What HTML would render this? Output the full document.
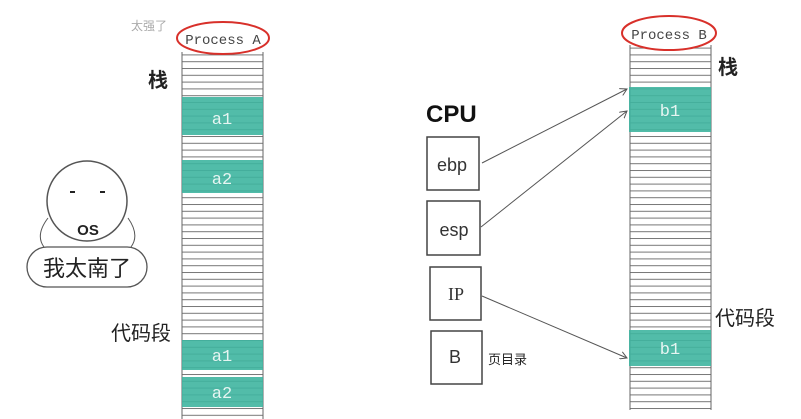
<!DOCTYPE html>
<html><head><meta charset="utf-8"><style>body{margin:0;background:#fff}svg{display:block}</style></head><body>
<svg width="801" height="419" xmlns="http://www.w3.org/2000/svg" font-family="Liberation Sans, Noto Sans CJK SC, sans-serif">
<defs>
<pattern id="ln" x="0" y="0" width="10" height="6.8" patternUnits="userSpaceOnUse"><line x1="0" y1="0.5" x2="10" y2="0.5" stroke="#777" stroke-width="1"/></pattern>
<marker id="ar" markerWidth="8" markerHeight="8" refX="7" refY="4" orient="auto"><path d="M0,0 L7,4 L0,8" fill="none" stroke="#555" stroke-width="1"/></marker>
</defs>
<rect x="182" y="52" width="81" height="365" fill="url(#ln)"/>
<line x1="182" y1="52" x2="182" y2="419" stroke="#666"/><line x1="263" y1="52" x2="263" y2="419" stroke="#666"/>
<g fill="#3fb5a0" opacity="0.9">
<rect x="182" y="97" width="81" height="38"/><rect x="182" y="160" width="81" height="33"/>
<rect x="182" y="340" width="81" height="30"/><rect x="182" y="377" width="81" height="30"/></g>
<g fill="#e6f5f2" font-family="Liberation Mono, monospace" font-size="17" text-anchor="middle">
<text x="222" y="124">a1</text><text x="222" y="184">a2</text><text x="222" y="361">a1</text><text x="222" y="398">a2</text></g>
<ellipse cx="223" cy="38" rx="46" ry="16" fill="#fff" stroke="#d8302a" stroke-width="2"/>
<text x="223" y="44" font-family="Liberation Mono, monospace" font-size="14" text-anchor="middle" fill="#444">Process A</text>
<text x="131" y="30" font-size="12" fill="#aaa">太强了</text>
<text x="148" y="87" font-size="20" fill="#222" font-weight="bold">栈</text>
<text x="111" y="340" font-size="20" fill="#222">代码段</text>
<circle cx="87" cy="201" r="40" fill="#fff" stroke="#555" stroke-width="1.5"/>
<line x1="70" y1="192" x2="75" y2="192" stroke="#222" stroke-width="2"/><line x1="100" y1="192" x2="105" y2="192" stroke="#222" stroke-width="2"/>
<text x="88" y="235" font-size="15" text-anchor="middle" fill="#222" font-weight="bold">OS</text>
<path d="M48,218 Q35,235 44,247 M128,218 Q140,235 131,247" fill="none" stroke="#555"/>
<rect x="27" y="247" width="120" height="40" rx="20" fill="#fff" stroke="#555" stroke-width="1.3"/>
<text x="87" y="276" font-size="22" text-anchor="middle" fill="#222">我太南了</text>
<rect x="630" y="45" width="81" height="365" fill="url(#ln)"/>
<line x1="630" y1="45" x2="630" y2="410" stroke="#666"/><line x1="711" y1="45" x2="711" y2="410" stroke="#666"/>
<g fill="#3fb5a0" opacity="0.9"><rect x="629" y="87" width="82" height="45"/><rect x="629" y="330" width="82" height="36"/></g>
<g fill="#e6f5f2" font-family="Liberation Mono, monospace" font-size="17" text-anchor="middle">
<text x="670" y="116">b1</text><text x="670" y="354">b1</text></g>
<ellipse cx="669" cy="33" rx="47" ry="17" fill="#fff" stroke="#d8302a" stroke-width="2"/>
<text x="669" y="39" font-family="Liberation Mono, monospace" font-size="14" text-anchor="middle" fill="#444">Process B</text>
<text x="718" y="74" font-size="20" fill="#222" font-weight="bold">栈</text>
<text x="715" y="325" font-size="20" fill="#222">代码段</text>
<text x="426" y="122" font-size="24" fill="#111" font-weight="bold">CPU</text>
<g fill="none" stroke="#444" stroke-width="1.5">
<rect x="427" y="137" width="52" height="53"/><rect x="427" y="201" width="53" height="54"/>
<rect x="430" y="267" width="51" height="53"/><rect x="431" y="331" width="51" height="53"/></g>
<g font-size="18" fill="#333" text-anchor="middle">
<text x="452" y="171">ebp</text><text x="454" y="236">esp</text>
<text x="456" y="300" font-family="Liberation Serif, serif">IP</text><text x="455" y="363">B</text></g>
<text x="488" y="364" font-size="13" fill="#222">页目录</text>
<g stroke="#555" stroke-width="1" fill="none" marker-end="url(#ar)">
<line x1="482" y1="163" x2="627" y2="89"/><line x1="481" y1="227" x2="627" y2="111"/><line x1="482" y1="296" x2="627" y2="358"/></g>
</svg>
</body></html>
